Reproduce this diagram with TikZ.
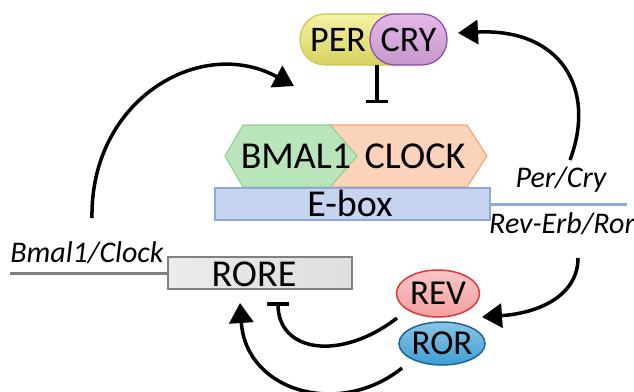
\documentclass[tikz,border=0pt]{standalone}
\usepackage{fontspec}
\setmainfont{Carlito}
\usetikzlibrary{arrows.meta,shapes.geometric}
\definecolor{yelc}{RGB}{240,237,128}
\definecolor{yeld}{RGB}{205,200,80}
\definecolor{yelb}{RGB}{214,210,96}
\definecolor{purc}{RGB}{220,168,226}
\definecolor{purd}{RGB}{140,70,175}
\definecolor{grnc}{RGB}{186,228,186}
\definecolor{grnd}{RGB}{150,210,150}
\definecolor{orac}{RGB}{251,210,186}
\definecolor{orad}{RGB}{240,168,124}
\definecolor{ebc}{RGB}{198,212,239}
\definecolor{ebd}{RGB}{142,168,218}
\definecolor{rorec}{RGB}{222,222,222}
\definecolor{rored}{RGB}{128,128,128}
\definecolor{revc}{RGB}{244,160,160}
\definecolor{revd}{RGB}{224,56,56}
\definecolor{rorc}{RGB}{62,158,213}
\definecolor{rord}{RGB}{30,100,150}
\begin{document}
\begin{tikzpicture}[x=1pt,y=-1pt,
  lbl/.style={font=\fontsize{38}{42}\selectfont, inner sep=0pt},
  lbs/.style={font=\fontsize{35}{40}\selectfont, inner sep=0pt},
  ital/.style={font=\fontsize{30}{34}\selectfont\itshape, inner sep=0pt, anchor=base},
  pill/.style={rectangle, rounded corners=25pt, line width=1.2pt, minimum height=51pt, inner sep=0pt},
  boxc/.style={rectangle, line width=1.5pt, minimum height=32pt, inner sep=0pt},
  oval/.style={ellipse, line width=1.5pt, inner sep=0pt, font=\fontsize{35}{40}\selectfont},
  arr/.style={line width=3.5pt, -{Triangle[length=20pt,width=24pt]}},
  inh/.style={line width=3.5pt, -{Bar[width=22pt]}},
  hex/.style={line width=1.2pt}
]
\useasboundingbox (0,0) rectangle (634,391);

% PER / CRY
\node[pill, top color=yelc!70!white, bottom color=yelb, draw=yeld, minimum width=120pt] (per) at (360,39.5) {};
\node[pill, top color=purc!80!white, bottom color=purc!90!black, draw=purd, minimum width=77pt, font=\fontsize{36}{40}\selectfont] (cry) at (408.5,39.5) {CRY};
\node[lbs, anchor=base, font=\fontsize{36}{40}\selectfont] (pertext) at (338,51) {PER};

% hexagons
\draw[hex, fill=orac, draw=orad] (330,125) -- (467,125) -- (487,156) -- (467,187) -- (330,187) -- (357,156) -- cycle;
\draw[hex, fill=grnc, draw=grnd] (225,156) -- (243,125) -- (330,125) -- (357,156) -- (330,187) -- (243,187) -- cycle;
\node[lbl, anchor=base] (bmal) at (296,168) {BMAL1};
\node[lbl, anchor=base] (clock) at (415,168) {CLOCK};

% E-box
\coordinate (ebend) at (627,204);
\draw[line width=3pt, ebd] (480,204) -- (ebend);
\node[boxc, fill=ebc, draw=ebd, minimum width=275pt] (ebox) at (352.5,204) {};
\node[lbl, anchor=base] (eboxtext) at (350,216) {E-box};

% RORE
\coordinate (bline) at (10,273);
\node[boxc, left color=rorec!60!white, right color=rorec, draw=rored, minimum width=184pt] (rore) at (260,273) {};
\draw[line width=3pt, rored] (bline) -- (rore.west);
\node[lbl, anchor=base] (roretext) at (254,286) {RORE};

% labels
\node[ital] (bmlbl) at (87,262) {Bmal1/Clock};
\node[ital] (pclbl) at (561,187) {Per/Cry};
\node[ital] (rvlbl) at (562,233) {Rev-Erb/Ror};

% REV / ROR
\node[oval, top color=revc!60!white, bottom color=revc, draw=revd, minimum width=83pt, minimum height=47pt] (rev) at (438,293.5) {REV};
\node[oval, top color=rorc!60!white, bottom color=rorc, draw=rord, minimum width=81pt, minimum height=43pt] (ror) at (442,343.5) {ROR};

% connectors
\coordinate (ls) at (92,218);
\coordinate (le) at (294,86);
\draw[arr] (ls) .. controls (90,100) and (200,35) .. (le);

\coordinate (rs) at (570,160);
\coordinate (re) at (458,33);
\draw[arr] (rs) .. controls (597,88) and (560,28) .. (re);

\coordinate (rbs) at (578,258);
\coordinate (rbe) at (482,317);
\draw[arr] (rbs) .. controls (578,295) and (540,313) .. (rbe);

\coordinate (pc) at (377,65);
\coordinate (pcbar) at (377,103);
\draw[inh] (pc) -- (pcbar);

\coordinate (revs) at (397,318);
\coordinate (revbar) at (278,302);
\draw[inh] (revs) .. controls (340,362) and (278,352) .. (revbar);

\coordinate (rors) at (402,368);
\coordinate (rore2) at (240,303);
\draw[arr] (rors) .. controls (340,418) and (246,392) .. (rore2);
\end{tikzpicture}
\end{document}
